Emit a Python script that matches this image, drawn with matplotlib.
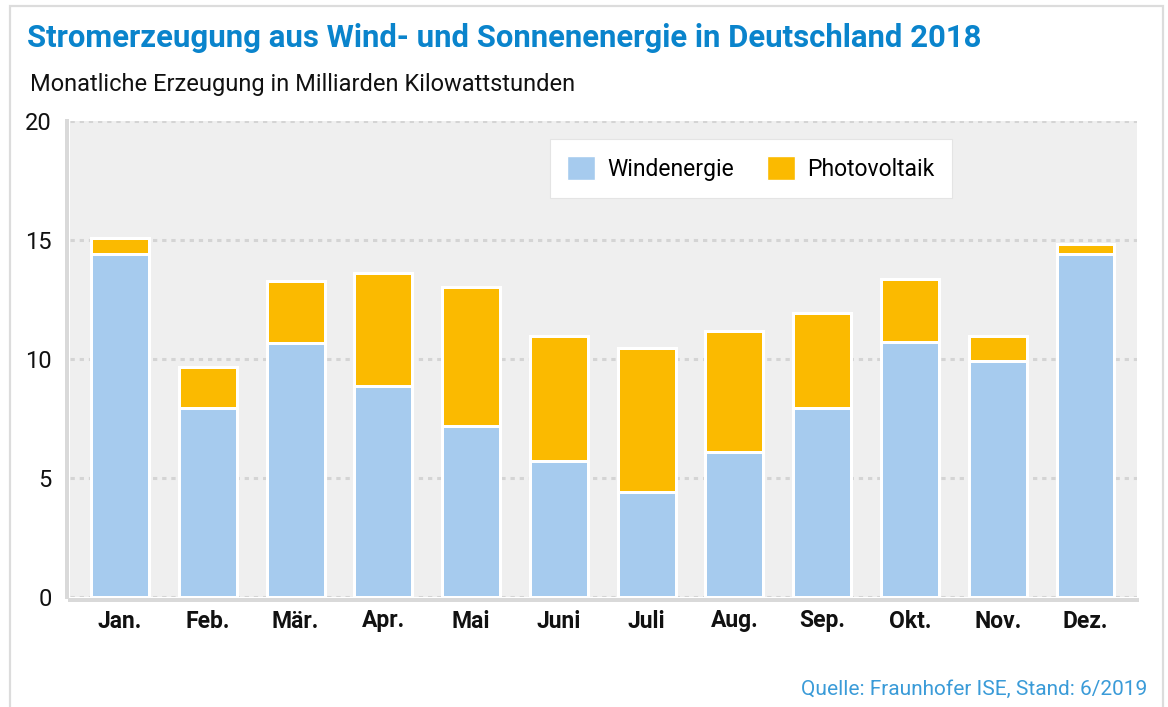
import matplotlib
matplotlib.use("Agg")
import matplotlib.pyplot as plt
from matplotlib.patches import Rectangle, Patch
import numpy as np

# ---- data ----
months = ["Jan.", "Feb.", "Mär.", "Apr.", "Mai", "Juni", "Juli", "Aug.", "Sep.", "Okt.", "Nov.", "Dez."]
wind = [14.42, 7.94, 10.66, 8.88, 7.20, 5.71, 4.43, 6.11, 7.95, 10.70, 9.92, 14.40]
solar = [0.66, 1.74, 2.62, 4.75, 5.81, 5.26, 6.03, 5.08, 3.98, 2.66, 1.06, 0.43]
yticks = [0, 5, 10, 15, 20]

title = "Stromerzeugung aus Wind- und Sonnenenergie in Deutschland 2018"
subtitle = "Monatliche Erzeugung in Milliarden Kilowattstunden"
source = "Quelle: Fraunhofer ISE, Stand: 6/2019"

WIND_C = "#A6CBEE"
SOLAR_C = "#FBBA00"
BG = "#EFEFEF"
GRID = "#D4D4D4"
TITLE_C = "#0A84CC"
SRC_C = "#3A9BD8"
FONT = "Roboto"

W, H = 1168, 707
DPI = 100
fig = plt.figure(figsize=(W / DPI, H / DPI), dpi=DPI)
fig.patch.set_facecolor("white")

def px(x, y):
    return x / W, 1 - y / H

# outer frame
frame = Rectangle(px(10, 760), (1163 - 10) / W, (760 - 6) / H, transform=fig.transFigure,
                  fill=False, edgecolor="#DCDCDC", lw=1.6)
fig.patches.append(frame)

# axes
x0, x1, ytop, ybot = 70, 1137, 121, 597
ax = fig.add_axes([x0 / W, 1 - ybot / H, (x1 - x0) / W, (ybot - ytop) / H])
ax.set_facecolor(BG)

for s in ["top", "right"]:
    ax.spines[s].set_visible(False)
for s in ["left", "bottom"]:
    ax.spines[s].set_color("#D9D9D9")
    ax.spines[s].set_linewidth(4 * 72 / DPI)
    ax.spines[s].set_position(("outward", 2))
    ax.spines[s].set_zorder(4)

x = np.arange(len(months))
bw = 0.66
lw_px = 3.0
lw = lw_px * 72 / DPI
ax.bar(x, wind, width=bw, color=WIND_C, edgecolor="white", linewidth=lw, zorder=3)
ax.bar(x, solar, bottom=wind, width=bw, color=SOLAR_C, edgecolor="white", linewidth=lw, zorder=3)

ax.set_xlim(-0.57, len(months) - 1 + 0.587)
ax.set_ylim(0, 20)
ax.set_yticks(yticks)
ax.set_xticks(x)
ax.set_xticklabels(months, fontfamily=FONT, fontweight="bold", fontsize=16.5, color="#111111")
ax.set_yticklabels([str(t) for t in yticks], fontfamily=FONT, fontsize=17, color="#111111")
ax.tick_params(axis="both", length=0)
ax.tick_params(axis="y", pad=11)
ax.tick_params(axis="x", pad=7)

ax.yaxis.grid(True, color=GRID, linestyle=(0, (1.4, 1.6)), linewidth=2.2, zorder=0)
ax.set_axisbelow(True)

# legend
handles = [Patch(facecolor=WIND_C, edgecolor="white", label="Windenergie"),
           Patch(facecolor=SOLAR_C, edgecolor="white", label="Photovoltaik")]
leg = ax.legend(handles=handles, loc="upper left", bbox_to_anchor=((550 - x0) / (x1 - x0), (ybot - 139) / (ybot - ytop)),
                ncol=2, frameon=True, fancybox=False, framealpha=1, edgecolor="#E4E4E4",
                prop={"family": FONT, "size": 16.5}, handlelength=1.2, handleheight=1.2,
                columnspacing=1.45, handletextpad=0.55, borderpad=0.75, borderaxespad=0)
leg.get_frame().set_linewidth(0.8)

# texts
fig.text(27 / W, 1 - 38 / H, title, fontfamily=FONT, fontweight="bold", fontsize=22.4,
         color=TITLE_C, va="center", ha="left")
fig.text(30 / W, 1 - 85 / H, subtitle, fontfamily=FONT, fontsize=17, color="#111111",
         va="center", ha="left")
fig.text(1147 / W, 1 - 689 / H, source, fontfamily=FONT, fontsize=15, color=SRC_C,
         va="center", ha="right")

fig.savefig("out.png", dpi=DPI, facecolor="white")
